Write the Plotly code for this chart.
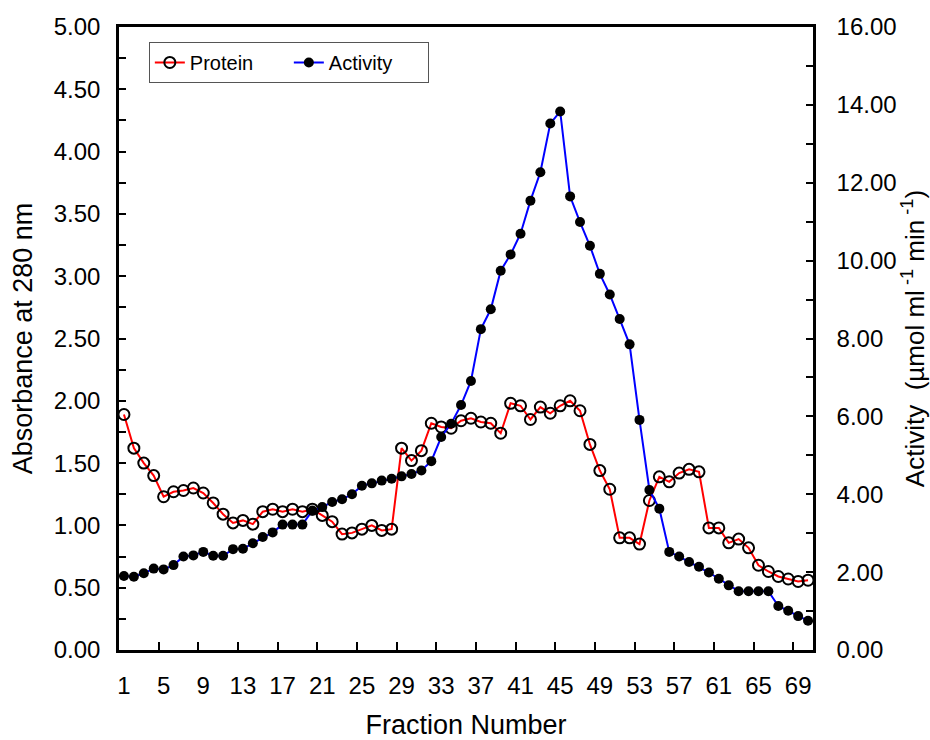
import plotly.graph_objects as go

# ---- data ----
fractions = list(range(1, 71))

protein = [1.89, 1.62, 1.50, 1.40, 1.23, 1.27, 1.28, 1.30, 1.26, 1.18,
           1.09, 1.02, 1.04, 1.01, 1.11, 1.13, 1.11, 1.13, 1.11, 1.13,
           1.08, 1.03, 0.93, 0.94, 0.97, 1.00, 0.96, 0.97, 1.62, 1.52,
           1.60, 1.82, 1.79, 1.78, 1.84, 1.86, 1.83, 1.82, 1.74, 1.98,
           1.96, 1.85, 1.95, 1.90, 1.96, 2.00, 1.92, 1.65, 1.44, 1.29,
           0.90, 0.90, 0.85, 1.20, 1.39, 1.35, 1.42, 1.45, 1.43, 0.98,
           0.98, 0.86, 0.89, 0.82, 0.68, 0.63, 0.59, 0.57, 0.55, 0.56]

activity = [1.90, 1.88, 1.97, 2.09, 2.07, 2.18, 2.40, 2.43, 2.52, 2.42,
            2.42, 2.59, 2.60, 2.74, 2.90, 3.02, 3.22, 3.22, 3.22, 3.58,
            3.67, 3.80, 3.87, 4.00, 4.22, 4.28, 4.35, 4.40, 4.46, 4.52,
            4.61, 4.85, 5.47, 5.81, 6.29, 6.91, 8.24, 8.75, 9.74, 10.16,
            10.69, 11.54, 12.27, 13.52, 13.83, 11.65, 10.99, 10.38, 9.66, 9.13,
            8.50, 7.85, 5.91, 4.11, 3.63, 2.52, 2.40, 2.26, 2.14, 1.99,
            1.83, 1.66, 1.51, 1.51, 1.51, 1.51, 1.13, 1.01, 0.87, 0.75]

x_label_vals = list(range(1, 70, 4))
x_label_text = [str(v) for v in x_label_vals]
x_tick_marks = [v - 0.5 for v in x_label_vals] + [70.5]

left_tick_vals = [i * 0.5 for i in range(11)]
right_tick_vals = list(range(0, 17, 2))

FONT = "Liberation Sans, Arial, sans-serif"
X_RANGE = [0.5, 70.5]

fig = go.Figure()
fig.add_trace(go.Scatter(
    x=fractions, y=protein, name="Protein", mode="lines+markers",
    line=dict(color="#FF0000", width=2),
    marker=dict(symbol="circle-open", size=11, color="black", line=dict(width=2)),
    xaxis="x", yaxis="y"))
fig.add_trace(go.Scatter(
    x=fractions, y=activity, name="Activity", mode="lines+markers",
    line=dict(color="#0000FF", width=2),
    marker=dict(symbol="circle", size=10, color="black"),
    xaxis="x2", yaxis="y2"))

axis_common = dict(showgrid=False, zeroline=False, showline=True,
                   linecolor="black", linewidth=2.5, automargin=False)

fig.update_layout(
    width=930, height=740,
    margin=dict(l=119, r=117, t=27, b=90),
    paper_bgcolor="white", plot_bgcolor="white",
    font=dict(family=FONT, color="black", size=24),
    showlegend=True,
    legend=dict(orientation="h", x=0.043, y=0.976, xanchor="left", yanchor="top",
                bgcolor="white", bordercolor="#555555", borderwidth=1,
                entrywidth=94, entrywidthmode="pixels",
                font=dict(size=20, family=FONT), traceorder="normal"),
    # main x axis: frame lines and inside tick marks between labelled fractions
    xaxis=dict(range=X_RANGE, tickvals=x_tick_marks, showticklabels=False,
               ticks="inside", ticklen=8, tickwidth=1.5, tickcolor="black",
               mirror=True, **axis_common),
    # overlay x axis: the fraction labels and title
    xaxis2=dict(range=X_RANGE, overlaying="x", anchor="y", side="bottom",
                tickvals=x_label_vals, ticktext=x_label_text, ticks="",
                showgrid=False, zeroline=False, showline=False, automargin=False,
                tickfont=dict(size=24), ticklabelstandoff=19,
                title=dict(text="Fraction Number", font=dict(size=27), standoff=20)),
    yaxis=dict(range=[0, 5], tickvals=left_tick_vals, tickformat=".2f",
               ticks="inside", ticklen=7, tickwidth=1.5, tickcolor="black",
               minor=dict(dtick=0.25, tick0=0, ticks="inside", ticklen=7,
                          tickwidth=1.5, tickcolor="black"),
               tickfont=dict(size=24), ticklabelstandoff=11,
               title=dict(text="Absorbance at 280 nm", font=dict(size=27), standoff=14),
               **axis_common),
    yaxis2=dict(range=[0, 16], tickvals=right_tick_vals, tickformat=".2f",
                overlaying="y", side="right", anchor="x2",
                ticks="inside", ticklen=7, tickwidth=1.5, tickcolor="black",
                minor=dict(dtick=1, tick0=0, ticks="inside", ticklen=7,
                           tickwidth=1.5, tickcolor="black"),
                tickfont=dict(size=24), ticklabelstandoff=16,
                title=dict(text="Activity  (µmol ml<sup> -1</sup> min<sup> -1</sup>)",
                           font=dict(size=26), standoff=16),
                **axis_common),
)

fig.write_html("out.html")
